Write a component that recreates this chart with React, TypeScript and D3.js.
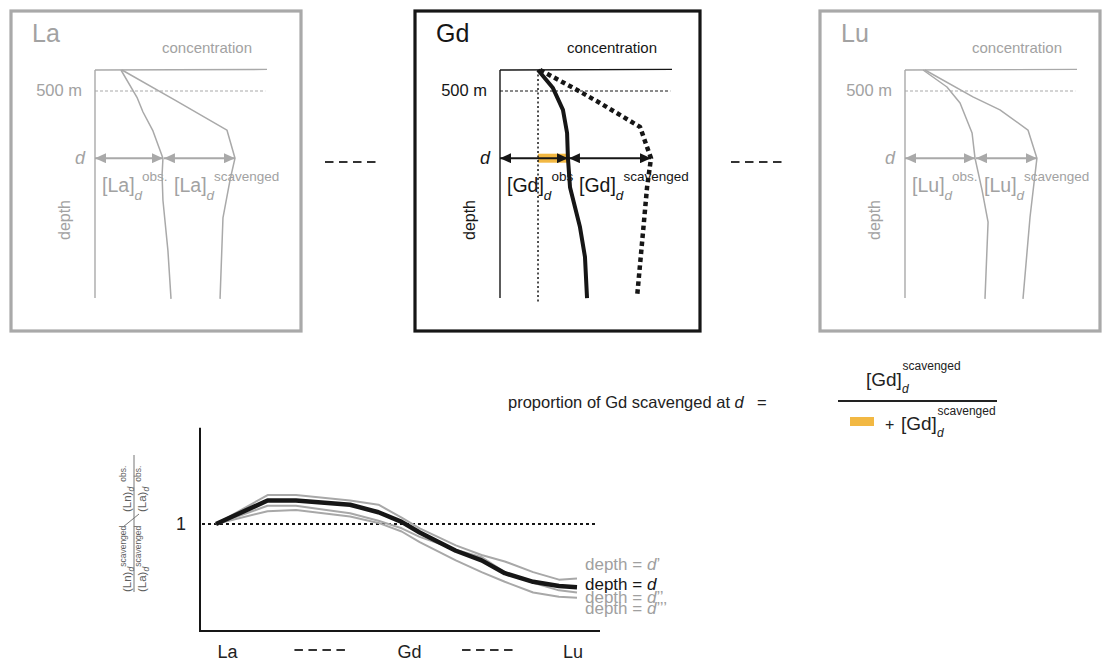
import React from 'react';
import * as d3 from 'd3';

const W = 1103;
const H = 661;
const FONT = "'Liberation Sans', Arial, Helvetica, sans-serif";
const GRAY = '#a9a9a9';
const GRAY_TEXT = '#a2a2a2';
const INK = '#161616';
const AMBER = '#f2b843';

// Depth (m) at which the profiles are compared
const D_DEPTH = 2100;

// Profiles: [depth in m, relative concentration 0–100]
const laObs: [number, number][] = [[0, 15.1], [650, 24.4], [1000, 27.9], [1450, 33.7], [2100, 39.5], [2500, 39.0], [3100, 39.5], [4300, 42.4], [5450, 44.2]];
const laScav: [number, number][] = [[0, 15.7], [715, 46.5], [1430, 76.7], [2100, 81.4], [2620, 78.5], [3520, 74.4], [5450, 72.7]];
const gdObs: [number, number][] = [[0, 22.1], [430, 30.8], [950, 36.6], [1500, 39.0], [2100, 39.5], [2790, 40.7], [3740, 46.5], [4450, 49.4], [5430, 50.6]];
const gdScav: [number, number][] = [[0, 23.3], [475, 44.8], [785, 58.1], [1355, 81.4], [2100, 87.8], [2790, 85.5], [3880, 83.1], [5400, 79.7]];
const luObs: [number, number][] = [[0, 10.5], [405, 24.4], [785, 32.0], [1500, 39.0], [2100, 40.7], [2860, 44.8], [3620, 48.3], [5450, 46.5]];
const luScav: [number, number][] = [[0, 11.6], [640, 39.5], [950, 55.2], [1430, 71.5], [2100, 76.7], [3500, 72.7], [5450, 68.6]];

// Normalised pattern: positions along La → Lu and ratio values per depth
const seriesPos = [0, 2, 3.1, 5.2, 6.3, 7.2, 7.9, 9.3, 10.3, 11.2, 12.3, 13.3, 14];
const ratioDp1 = [1.0, 1.27, 1.27, 1.22, 1.18, 1.06, 0.96, 0.8, 0.71, 0.65, 0.55, 0.48, 0.49];
const ratioD = [1.0, 1.22, 1.22, 1.18, 1.11, 1.02, 0.92, 0.75, 0.66, 0.54, 0.46, 0.42, 0.41];
const ratioDp2 = [1.0, 1.17, 1.17, 1.1, 1.03, 0.96, 0.88, 0.76, 0.69, 0.55, 0.45, 0.38, 0.36];
const ratioDp3 = [1.0, 1.12, 1.13, 1.07, 1.01, 0.93, 0.83, 0.66, 0.55, 0.46, 0.36, 0.32, 0.31];
const xCategories: [string, number][] = [['La', 0.45], ['Gd', 7.5], ['Lu', 13.85]];
const yTicks = [1];

const panels = [
  { el: 'La', obs: laObs, scav: laScav, frameX: 11, frameW: 290, axisX: 95, strong: false, obsSup: 'obs.' },
  { el: 'Gd', obs: gdObs, scav: gdScav, frameX: 415, frameW: 285, axisX: 500, strong: true, obsSup: 'obs' },
  { el: 'Lu', obs: luObs, scav: luScav, frameX: 820, frameW: 280, axisX: 905, strong: false, obsSup: 'obs.' },
];

const depthY = d3.scaleLinear().domain([0, 5500]).range([70, 301]);

function concAt(profile: [number, number][], depth: number) {
  const p = profile.find((q) => q[0] === depth);
  return p ? p[1] : 0;
}

function ElemLabel({ x, y, el, sup, color }: { x: number; y: number; el: string; sup: string; color: string }) {
  return (
    <text x={x} y={y} fontSize={19.5} fill={color}>
      [{el}]
      <tspan dy={8} fontSize={13.5} fontStyle="italic">d</tspan>
      <tspan dy={-19} fontSize={13.5}>{sup}</tspan>
    </text>
  );
}

function Panel({ p }: { p: (typeof panels)[number] }) {
  const col = p.strong ? INK : GRAY;
  const txt = p.strong ? INK : GRAY_TEXT;
  const cx = d3.scaleLinear().domain([0, 100]).range([p.axisX, p.axisX + 172]);
  const line = d3
    .line<[number, number]>()
    .x((d) => cx(d[1]))
    .y((d) => depthY(d[0]));
  const obsD = concAt(p.obs, D_DEPTH);
  const scavD = concAt(p.scav, D_DEPTH);
  const marker = p.strong ? 'url(#arrowInk)' : 'url(#arrowGray)';
  const yD = depthY(D_DEPTH);
  return (
    <g fontFamily={FONT}>
      <rect x={p.frameX} y={11} width={p.frameW} height={320} fill="none" stroke={p.strong ? INK : GRAY} strokeWidth={3.2} />
      <text x={p.frameX + 21} y={42} fontSize={25} fill={txt}>{p.el}</text>
      <text x={cx(0) + 112} y={53} fontSize={15} fill={txt} textAnchor="middle">concentration</text>
      <text x={cx(0) - 13} y={96} fontSize={16.5} fill={txt} textAnchor="end">500 m</text>
      <text x={cx(0) - 10} y={yD + 6} fontSize={18} fill={txt} textAnchor="end" fontStyle="italic">d</text>
      <text transform={`translate(${cx(0) - 25},220) rotate(-90)`} fontSize={16} fill={txt} textAnchor="middle">depth</text>

      {/* axes */}
      <line x1={cx(0)} x2={cx(0)} y1={depthY(0)} y2={depthY(5430)} stroke={col} strokeWidth={1.4} />
      <line x1={cx(0)} x2={cx(100)} y1={depthY(0)} y2={depthY(0) - 0.6} stroke={col} strokeWidth={1.4} />
      <line x1={cx(0)} x2={cx(99)} y1={depthY(500)} y2={depthY(500)} stroke={col} strokeWidth={1} strokeDasharray="3 2" />

      {p.strong && (
        <>
          <rect x={cx(p.obs[0][1])} y={yD - 4.5} width={cx(obsD) - cx(p.obs[0][1])} height={9} fill={AMBER} />
          <line x1={cx(p.obs[0][1])} x2={cx(p.obs[0][1])} y1={depthY(0)} y2={depthY(5560)} stroke={INK} strokeWidth={1.5} strokeDasharray="2 2.5" />
        </>
      )}

      {/* profiles */}
      <path d={line(p.obs) || ''} fill="none" stroke={col} strokeWidth={p.strong ? 4 : 1.5} strokeLinejoin="round" />
      <path
        d={line(p.scav) || ''}
        fill="none"
        stroke={col}
        strokeWidth={p.strong ? 4.5 : 1.5}
        strokeDasharray={p.strong ? '4.5 3.5' : undefined}
        strokeLinejoin="round"
      />

      {/* arrows at depth d */}
      <line x1={cx(0)} x2={cx(obsD)} y1={yD} y2={yD} stroke={col} strokeWidth={2} markerStart={marker} markerEnd={marker} />
      <line x1={cx(obsD) + 1} x2={cx(scavD)} y1={yD} y2={yD} stroke={col} strokeWidth={2} markerStart={marker} markerEnd={marker} />

      <ElemLabel x={cx(0) + 7} y={192} el={p.el} sup={p.obsSup} color={txt} />
      <ElemLabel x={cx(0) + 79} y={192} el={p.el} sup="scavenged" color={txt} />
    </g>
  );
}

function PatternChart() {
  const x = d3.scaleLinear().domain([0, 14]).range([216, 577]);
  const y = d3.scaleLinear().domain([0, 1.9]).range([631, 427.7]);
  const axisLeft = 200;
  const axisRight = 600;
  const mk = (vals: number[]) =>
    d3
      .line<number>()
      .x((_, i) => x(seriesPos[i]))
      .y((v) => y(v))(vals) || '';
  const labels = [
    { text: '’', vals: ratioDp1, color: '#a0a0a0', dy: -9 },
    { text: '', vals: ratioD, color: INK, dy: 3 },
    { text: '’’', vals: ratioDp2, color: '#a0a0a0', dy: 11 },
    { text: '’’’', vals: ratioDp3, color: '#a0a0a0', dy: 16 },
  ];
  return (
    <g fontFamily={FONT}>
      <line x1={axisLeft} x2={axisLeft} y1={y(1.9)} y2={y(0) + 1} stroke={INK} strokeWidth={2} />
      <line x1={axisLeft} x2={axisRight} y1={y(0)} y2={y(0)} stroke={INK} strokeWidth={2} />
      {yTicks.map((t) => (
        <g key={t}>
          <text x={186} y={y(t) + 6} fontSize={18} fill="#222" textAnchor="end">{t}</text>
          <line x1={axisLeft + 2} x2={597} y1={y(t)} y2={y(t)} stroke={INK} strokeWidth={2} strokeDasharray="3 3" />
        </g>
      ))}
      {[ratioDp1, ratioDp2, ratioDp3].map((v, i) => (
        <path key={i} d={mk(v)} fill="none" stroke="#a8a8a8" strokeWidth={2} strokeLinejoin="round" />
      ))}
      <path d={mk(ratioD)} fill="none" stroke={INK} strokeWidth={4.5} strokeLinejoin="round" />

      {labels.map((l, i) => (
        <text key={i} x={x(14) + 8} y={y(l.vals[l.vals.length - 1]) + l.dy} fontSize={17} fill={l.color}>
          depth = <tspan fontStyle="italic">d</tspan>
          {l.text}
        </text>
      ))}

      {xCategories.map(([c, pos]) => (
        <text key={c} x={x(pos)} y={658} fontSize={18} fill="#222" textAnchor="middle">{c}</text>
      ))}
      {[4.05, 10.55].map((pos) => (
        <line key={pos} x1={x(pos) - 26} x2={x(pos) + 26} y1={650} y2={650} stroke="#333" strokeWidth={2} strokeDasharray="8.5 5.5" />
      ))}

      {/* rotated y-axis label: double ratio */}
      <g transform="translate(134,525) rotate(-90)" fill="#5e5e5e">
        <line x1={-67} x2={70} y1={0} y2={0} stroke="#777" strokeWidth={1} />
        <text x={-67} y={-3} fontSize={11.5}>
          (Ln)<tspan dy={3} fontSize={8.5} fontStyle="italic">d</tspan>
          <tspan dy={-8} fontSize={8.5}>scavenged</tspan>
        </text>
        <text x={-67} y={11.5} fontSize={11.5}>
          (La)<tspan dy={3} fontSize={8.5} fontStyle="italic">d</tspan>
          <tspan dy={-8} fontSize={8.5}>scavenged</tspan>
        </text>
        <text x={13} y={-3} fontSize={11.5}>
          (Ln)<tspan dy={3} fontSize={8.5} fontStyle="italic">d</tspan>
          <tspan dx={5} dy={-8} fontSize={8.5}>obs.</tspan>
        </text>
        <text x={13} y={11.5} fontSize={11.5}>
          (La)<tspan dy={3} fontSize={8.5} fontStyle="italic">d</tspan>
          <tspan dx={5} dy={-8} fontSize={8.5}>obs.</tspan>
        </text>
      </g>
      <line x1={123} y1={527} x2={139} y2={514} stroke="#777" strokeWidth={1} />
    </g>
  );
}

function Formula() {
  return (
    <g fontFamily={FONT} fill="#222">
      <text x={508} y={408} fontSize={16.5}>
        proportion of Gd scavenged at <tspan fontStyle="italic">d</tspan>
      </text>
      <text x={757} y={408} fontSize={16.5}>=</text>
      <text x={866} y={386} fontSize={19}>
        [Gd]<tspan dy={7} fontSize={12} fontStyle="italic">d</tspan>
        <tspan dx={-6} dy={-23} fontSize={12}>scavenged</tspan>
      </text>
      <line x1={838} x2={997} y1={401} y2={401} stroke="#222" strokeWidth={1.8} />
      <rect x={850} y={417} width={24} height={9} fill={AMBER} />
      <text x={885} y={430} fontSize={16}>+</text>
      <text x={901} y={430} fontSize={19}>
        [Gd]<tspan dy={7} fontSize={12} fontStyle="italic">d</tspan>
        <tspan dx={-6} dy={-22} fontSize={12}>scavenged</tspan>
      </text>
    </g>
  );
}

export default function App() {
  return (
    <svg width={W} height={H} style={{ position: 'absolute', left: 0, top: 0, display: 'block', background: '#fff' }}>
      <defs>
        <marker id="arrowGray" viewBox="0 0 11 10" refX={11} refY={5} markerWidth={11} markerHeight={10} markerUnits="userSpaceOnUse" orient="auto-start-reverse">
          <path d="M0,0 L11,5 L0,10 z" fill={GRAY} />
        </marker>
        <marker id="arrowInk" viewBox="0 0 11 10" refX={11} refY={5} markerWidth={11} markerHeight={10} markerUnits="userSpaceOnUse" orient="auto-start-reverse">
          <path d="M0,0 L11,5 L0,10 z" fill={INK} />
        </marker>
      </defs>
      <rect width={W} height={H} fill="#fff" />
      {panels.map((p) => (
        <Panel key={p.el} p={p} />
      ))}
      {[351, 757].map((cxSep) => (
        <line key={cxSep} x1={cxSep - 26} x2={cxSep + 26} y1={162} y2={162} stroke="#333" strokeWidth={2.2} strokeDasharray="8.5 5.5" />
      ))}
      <Formula />
      <PatternChart />
    </svg>
  );
}
